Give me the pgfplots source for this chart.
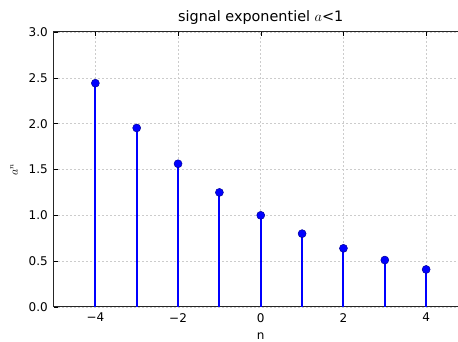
\documentclass[border=0pt]{standalone}
\usepackage{fontspec}
\setmainfont{DejaVu Sans}
\usepackage{pgfplots}
\pgfplotsset{compat=1.18}
\begin{document}
\begin{tikzpicture}
\begin{axis}[
  scale only axis, width=413.5pt, height=275pt,
  xmin=-5, xmax=5, ymin=0, ymax=3,
  xtick={-4,-2,0,2,4}, xticklabels={−4,−2,0,2,4},
  ytick={0,0.5,1,1.5,2,2.5,3}, yticklabels={0.0,0.5,1.0,1.5,2.0,2.5,3.0},
  ticklabel style={font=\fontsize{12}{14}\selectfont, inner sep=0pt},
  xticklabel style={anchor=north, yshift=-6pt},
  yticklabel style={anchor=east, xshift=-6pt},
  tick align=inside, major tick length=4pt,
  major tick style={black, line width=0.5pt},
  axis line style={black!85, line width=1pt},
  grid=major, grid style={gray!40, line width=0.6pt, dash pattern=on 2pt off 2pt},
  title={signal exponentiel $a$<1},
  title style={at={(0.5,1.018)}, anchor=base, font=\fontsize{14.4}{17}\selectfont},
  xlabel={n},
  xlabel style={at={(0.5,-0.12)}, anchor=base, font=\fontsize{12}{14}\selectfont},
  ylabel={$a^n$},
  ylabel style={at={(-0.0967,0.5)}, anchor=center, font=\fontsize{12}{14}\selectfont},
]
\addplot[ycomb, color=blue, line width=2pt, mark=*, mark size=4pt, mark options={fill=blue, draw=blue!60!black, line width=0.5pt}]
  coordinates {(-4,2.4414) (-3,1.9531) (-2,1.5625) (-1,1.25) (0,1) (1,0.8) (2,0.64) (3,0.512) (4,0.4096)};
\coordinate (sw) at (rel axis cs:0,0);
\coordinate (nw) at (rel axis cs:0,1);
\end{axis}
\pgfresetboundingbox
\path[use as bounding box] ([shift={(-54pt,-35pt)}]sw) rectangle ([shift={(404pt,32pt)}]nw);
\end{tikzpicture}
\end{document}
